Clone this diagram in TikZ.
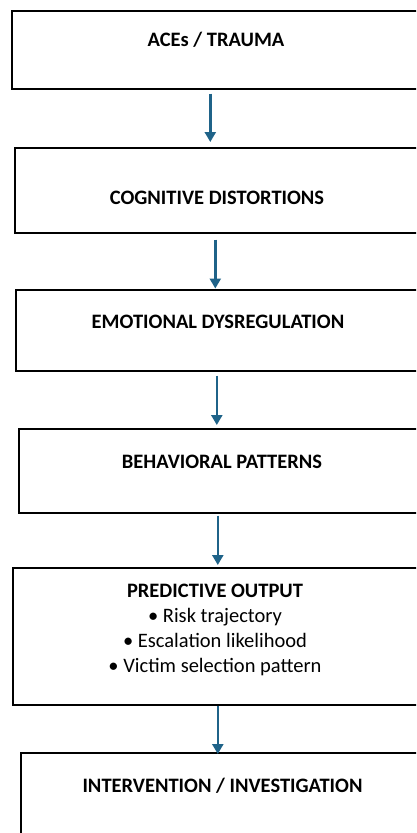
\documentclass[tikz,border=0pt]{standalone}
\usepackage{fontspec}
\setmainfont{Carlito}
\usetikzlibrary{arrows.meta}
\definecolor{flowblue}{HTML}{1F6389}
\begin{document}
\begin{tikzpicture}[x=1pt,y=-1pt,
    box/.style={draw=black,line width=1.6pt,anchor=north west,inner sep=0pt,minimum width=420pt},
    lbl/.style={font=\fontsize{20.5}{25}\selectfont\bfseries,inner sep=0pt,anchor=base},
    flow/.style={draw=flowblue,line width=2.4pt,-{Triangle[length=10pt,width=11pt]}}]
    \useasboundingbox (0,0) rectangle (416,833);
    \clip (0,0) rectangle (416,833);
    % boxes
    \node[box,minimum height=78pt](aces) at (11,10){};
    \node[box,minimum height=85pt](cog) at (14,147){};
    \node[box,minimum height=81pt](emo) at (15,289){};
    \node[box,minimum height=84pt](beh) at (18,428){};
    \node[box,minimum height=137pt](pred) at (12,567){};
    \node[box,minimum height=120pt](inter) at (20,752){};
    % labels
    \node[lbl](acestxt) at (216,46.5){ACEs / TRAUMA};
    \node[lbl](cogtxt) at (217,204.5){COGNITIVE DISTORTIONS};
    \node[lbl](emotxt) at (218,328.5){EMOTIONAL DYSREGULATION};
    \node[lbl](behtxt) at (222,468.5){BEHAVIORAL PATTERNS};
    \node[lbl,anchor=north,align=center,font=\fontsize{20.5}{25}\selectfont](predtxt) at (215,584)
        {{\bfseries PREDICTIVE OUTPUT}\\• Risk trajectory\\• Escalation likelihood\\• Victim selection pattern};
    \node[lbl](intertxt) at (222.5,792.5){INTERVENTION / INVESTIGATION};
    % arrows
    \draw[flow,shorten <=4pt,shorten >=5pt]([xshift=-11.5pt]aces.south)--([xshift=-11.5pt]aces.south|-cog.north);
    \draw[flow,shorten <=6pt,shorten >=0.5pt]([xshift=-9.5pt]cog.south)--([xshift=-9.5pt]cog.south|-emo.north);
    \draw[flow,shorten <=4pt,shorten >=3pt]([xshift=-9pt]emo.south)--([xshift=-9pt]emo.south|-beh.north);
    \draw[flow,shorten <=2pt,shorten >=2pt]([xshift=-11pt]beh.south)--([xshift=-11pt]beh.south|-pred.north);
    \draw[flow,shorten <=0pt,shorten >=-2pt]([xshift=-5pt]pred.south)--([xshift=-5pt]pred.south|-inter.north);
\end{tikzpicture}
\end{document}
